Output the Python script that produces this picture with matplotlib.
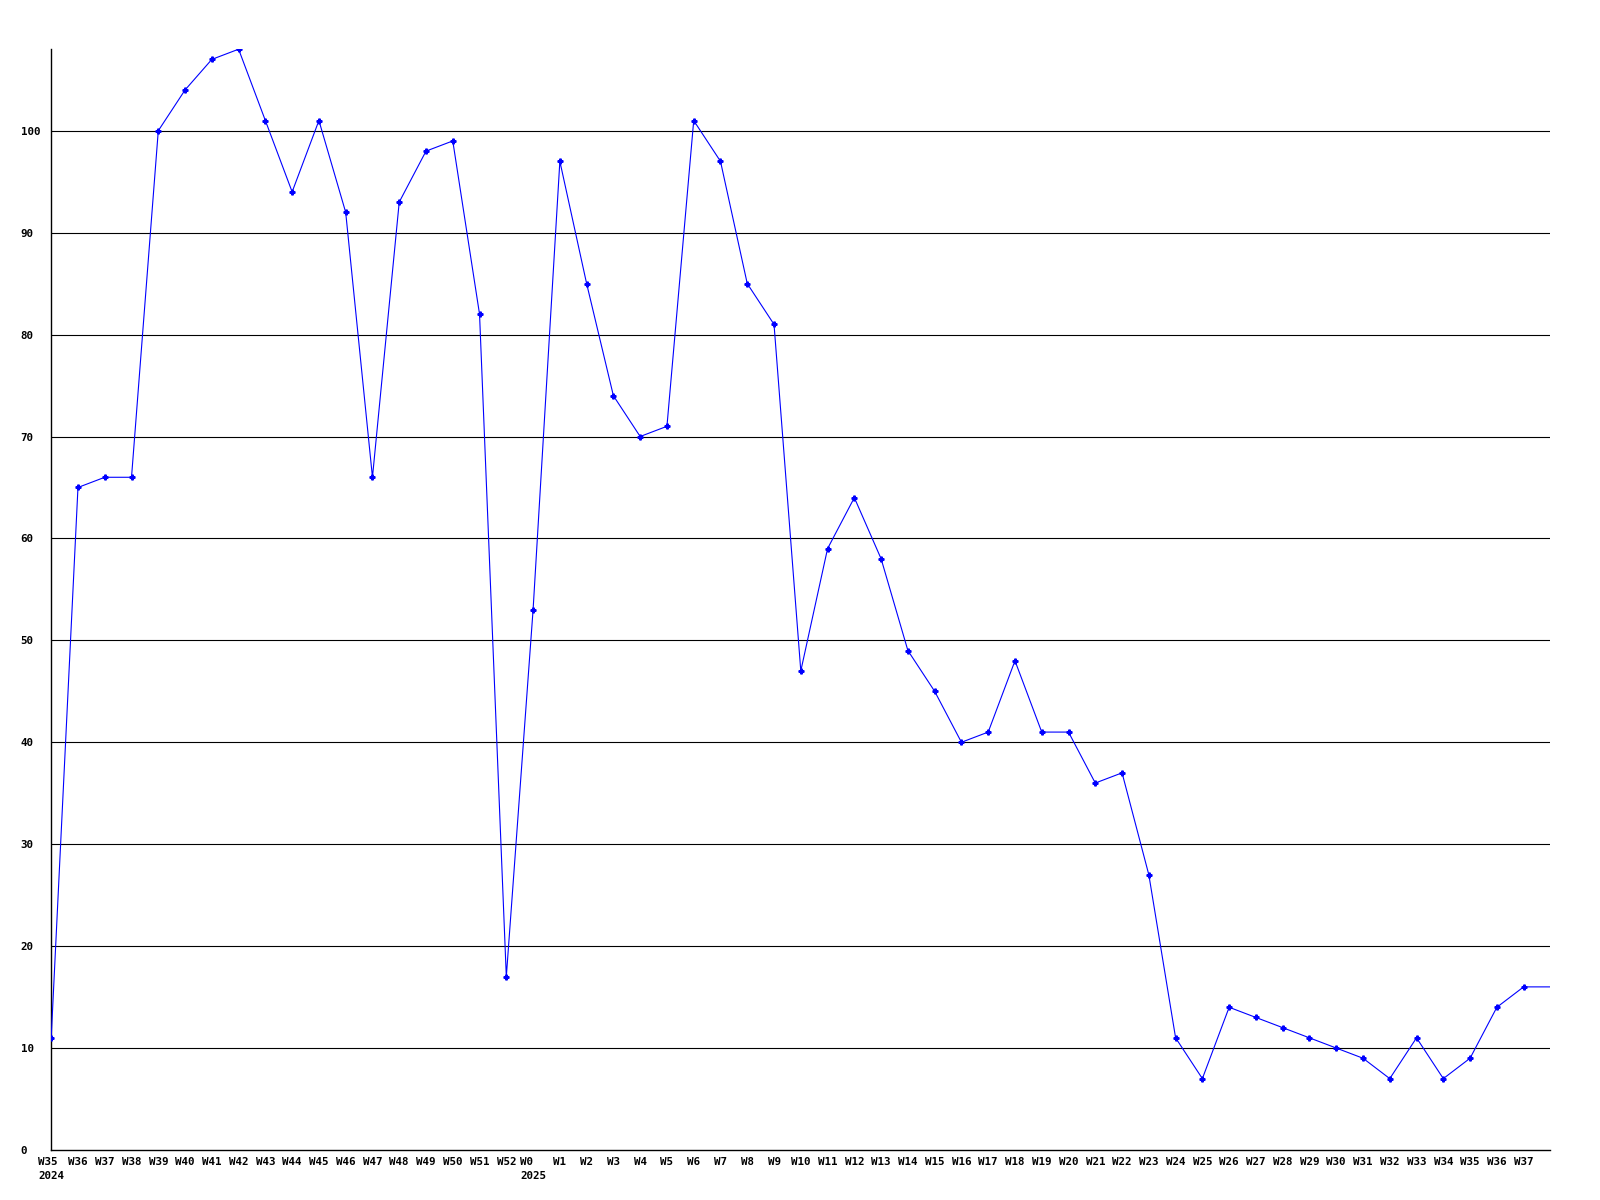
import matplotlib
matplotlib.use('Agg')
import matplotlib.pyplot as plt

weeks = ['W35', 'W36', 'W37', 'W38', 'W39', 'W40', 'W41', 'W42', 'W43', 'W44',
         'W45', 'W46', 'W47', 'W48', 'W49', 'W50', 'W51', 'W52', 'W0',
         'W1', 'W2', 'W3', 'W4', 'W5', 'W6', 'W7', 'W8', 'W9', 'W10',
         'W11', 'W12', 'W13', 'W14', 'W15', 'W16', 'W17', 'W18', 'W19', 'W20',
         'W21', 'W22', 'W23', 'W24', 'W25', 'W26', 'W27', 'W28', 'W29', 'W30',
         'W31', 'W32', 'W33', 'W34', 'W35', 'W36', 'W37', '']
years = {0: '2024', 18: '2025'}
values = [11, 65, 66, 66, 100, 104, 107, 108, 101, 94,
          101, 92, 66, 93, 98, 99, 82, 17, 53,
          97, 85, 74, 70, 71, 101, 97, 85, 81, 47,
          59, 64, 58, 49, 45, 40, 41, 48, 41, 41,
          36, 37, 27, 11, 7, 14, 13, 12, 11, 10,
          9, 7, 11, 7, 9, 14, 16, 16]
yticks = list(range(0, 101, 10))

plt.rcParams['font.family'] = 'DejaVu Sans Mono'
plt.rcParams['font.weight'] = 'bold'

fig = plt.figure(figsize=(16, 12), dpi=100)
ax = fig.add_axes([0.032, 0.0417, 0.937, 0.9173])

x = list(range(len(values)))
for v in yticks[1:]:
    ax.axhline(v, color='black', lw=0.8, zorder=1)
# last point sits past the right edge, so no marker there
ax.plot(x, values, color='#0000ff', lw=0.8, marker='P', ms=3.5,
        markevery=list(range(len(values) - 1)), zorder=3)

ax.set_xlim(0, len(values) - 1)
ax.set_ylim(0, 108)
ax.set_yticks(yticks)
ax.set_yticklabels([str(v) for v in yticks], fontsize=7.8, fontweight='bold', ha='left')

labels = []
for i, w in enumerate(weeks):
    labels.append(w + '\n' + years[i] if i in years else w)
ax.set_xticks(x)
ax.set_xticklabels(labels, fontsize=7.8, fontweight='bold', multialignment='left',
                   linespacing=1.5)
ax.tick_params(axis='both', length=0)
ax.tick_params(axis='y', pad=22)
ax.tick_params(axis='x', pad=5)

for s in ['top', 'right']:
    ax.spines[s].set_visible(False)
ax.spines['left'].set_linewidth(1)
ax.spines['bottom'].set_linewidth(1)

fig.savefig('out.png', dpi=100)
